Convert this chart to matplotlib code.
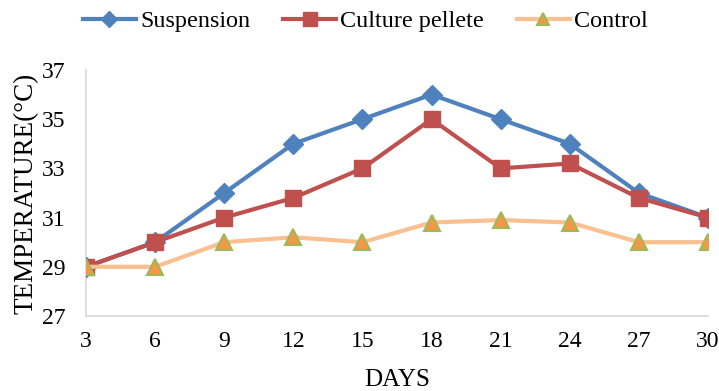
import matplotlib
matplotlib.use("Agg")
import matplotlib.pyplot as plt

days = [3, 6, 9, 12, 15, 18, 21, 24, 27, 30]
suspension = [29, 30, 32, 34, 35, 36, 35, 34, 32, 31]
culture_pellete = [29, 30, 31, 31.8, 33, 35, 33, 33.2, 31.8, 31]
control = [29, 29, 30, 30.2, 30, 30.8, 30.9, 30.8, 30, 30]
y_ticks = [27, 29, 31, 33, 35, 37]

plt.rcParams['font.family'] = ['Liberation Serif', 'DejaVu Serif']

fig = plt.figure(figsize=(7.19, 3.91), dpi=100)
ax = fig.add_axes([0.1196, 0.1918, 0.8651, 0.6292])

pos = list(range(len(days)))
ax.plot(pos, suspension, color='#4F81BD', lw=3, marker='D', ms=10,
        mfc='#4F81BD', mec='#4F81BD', label='Suspension', zorder=3)
ax.plot(pos, culture_pellete, color='#C0504D', lw=3, marker='s', ms=12,
        mfc='#C0504D', mec='#C0504D', label='Culture pellete', zorder=3)
ax.plot(pos, control, color='#FAC090', lw=3, marker='^', ms=11,
        mfc='#F79646', mec='#9BBB59', mew=1.5, label='Control', zorder=3)

ax.set_xlim(0, len(days) - 1)
ax.set_ylim(27, 37)
ax.set_yticks(y_ticks)
ax.set_xticks(pos)
ax.set_xticklabels([str(d) for d in days])
ax.tick_params(axis='both', length=0, labelsize=17)
ax.tick_params(axis='x', pad=11)
ax.tick_params(axis='y', pad=15)

for s in ['top', 'right']:
    ax.spines[s].set_visible(False)
for s in ['left', 'bottom']:
    ax.spines[s].set_color('#D9D9D9')
    ax.spines[s].set_linewidth(1.2)

ax.set_xlabel('DAYS', fontsize=18, labelpad=12)
ax.set_ylabel('TEMPERATURE(°C)', fontsize=19.5, labelpad=2)

fig.legend(loc='center', bbox_to_anchor=(0.508, 0.945), ncol=3,
           frameon=False, fontsize=17.4, handlelength=2.2, handletextpad=0.17,
           columnspacing=1.36, markerscale=0.85)

fig.savefig('out.png', dpi=100)
